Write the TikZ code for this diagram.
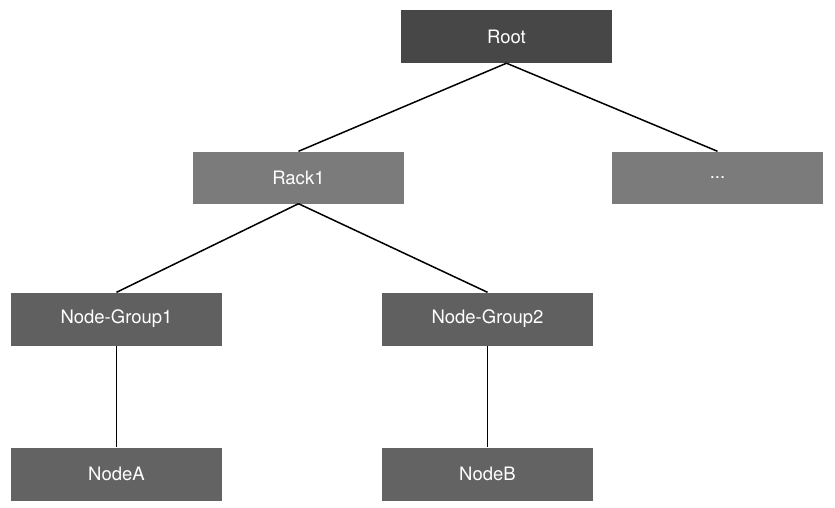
\documentclass[tikz,border=0pt]{standalone}
\usepackage{fontspec}
\setmainfont{TeX Gyre Heros}
\begin{document}
\begin{tikzpicture}[x=1pt,y=-1pt,
  box/.style={draw=none,minimum width=211pt,minimum height=53pt,inner sep=0pt,text=white,font=\fontsize{18.5}{22}\selectfont},
  link/.style={black,line width=1.5pt}]
\useasboundingbox[fill=white] (0,0) rectangle (835,508);
\definecolor{cRoot}{HTML}{474747}
\definecolor{cRack}{HTML}{7B7B7B}
\definecolor{cGroup}{HTML}{606060}
\definecolor{cLeaf}{HTML}{636363}
\node[box,fill=cRoot] (root) at (506.5,36.5) {Root};
\node[box,fill=cRack,minimum height=52pt] (rack) at (298.5,177.5) {Rack1};
\node[box,fill=cRack,minimum height=52pt] (more) at (717.5,177.5) {...};
\node[box,fill=cGroup] (ng1) at (116.5,319) {Node-Group1};
\node[box,fill=cGroup] (ng2) at (487.5,319) {Node-Group2};
\node[box,fill=cLeaf] (na) at (116.5,474) {NodeA};
\node[box,fill=cLeaf] (nb) at (487.5,474) {NodeB};
\draw[link] (root.south) -- (rack.north);
\draw[link] (root.south) -- (more.north);
\draw[link] (rack.south) -- (ng1.north);
\draw[link] (rack.south) -- (ng2.north);
\draw[link] (ng1.south) -- (na.north);
\draw[link] (ng2.south) -- (nb.north);
\end{tikzpicture}
\end{document}
